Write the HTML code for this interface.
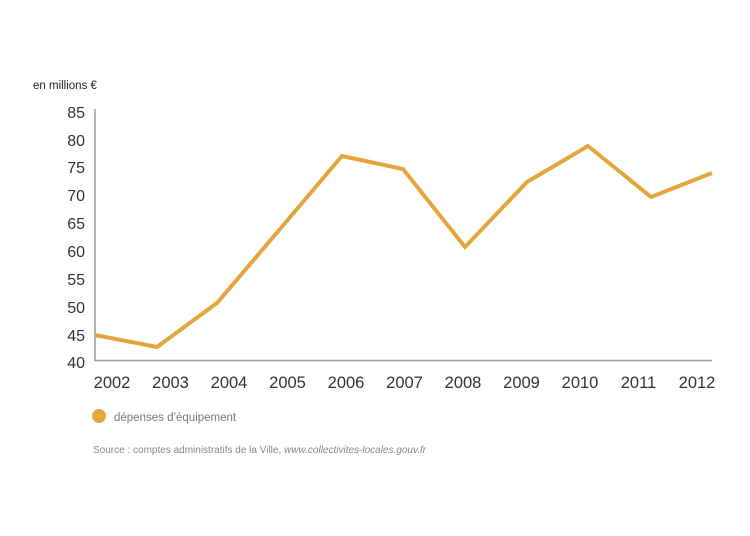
<!DOCTYPE html>
<html><head><meta charset="utf-8"><style>
html,body{margin:0;padding:0;background:#fff;}
svg{display:block;}
</style></head><body>
<svg width="750" height="536" viewBox="0 0 750 536" xmlns="http://www.w3.org/2000/svg">
<rect width="750" height="536" fill="#fff"/>
<text x="33" y="89" font-family="Liberation Sans, sans-serif" font-size="11.5" fill="#222">en millions €</text>
<g font-family="Liberation Sans, sans-serif" font-size="16" fill="#333" text-anchor="end">
<text x="85" y="118">85</text>
<text x="85" y="146">80</text>
<text x="85" y="173">75</text>
<text x="85" y="201">70</text>
<text x="85" y="229">65</text>
<text x="85" y="257">60</text>
<text x="85" y="285">55</text>
<text x="85" y="313">50</text>
<text x="85" y="341">45</text>
<text x="85" y="368">40</text>
</g>
<line x1="95" y1="109" x2="95" y2="360.5" stroke="#9a9a9a" stroke-width="1.5"/>
<line x1="94.25" y1="360.5" x2="712" y2="360.5" stroke="#9a9a9a" stroke-width="1.5"/>
<g font-family="Liberation Sans, sans-serif" font-size="16.5" fill="#333" text-anchor="middle">
<text x="112" y="388">2002</text>
<text x="170.5" y="388">2003</text>
<text x="229" y="388">2004</text>
<text x="287.5" y="388">2005</text>
<text x="346" y="388">2006</text>
<text x="404.5" y="388">2007</text>
<text x="463" y="388">2008</text>
<text x="521.5" y="388">2009</text>
<text x="580" y="388">2010</text>
<text x="638.5" y="388">2011</text>
<text x="697" y="388">2012</text>
</g>
<polyline points="95,335 157,347 217,303 280,229 342,156 403,169 465,247 527,182 588,146 651,197 712,173" fill="none" stroke="#e3a63d" stroke-width="4" stroke-linejoin="miter"/>
<circle cx="99" cy="416" r="7" fill="#e5a83a"/>
<text x="114" y="421" font-family="Liberation Sans, sans-serif" font-size="11.5" fill="#777">dépenses d’équipement</text>
<text x="93" y="453" font-family="Liberation Sans, sans-serif" font-size="10" fill="#888">Source : comptes administratifs de la Ville, <tspan font-style="italic">www.collectivites-locales.gouv.fr</tspan></text>
</svg>
</body></html>
